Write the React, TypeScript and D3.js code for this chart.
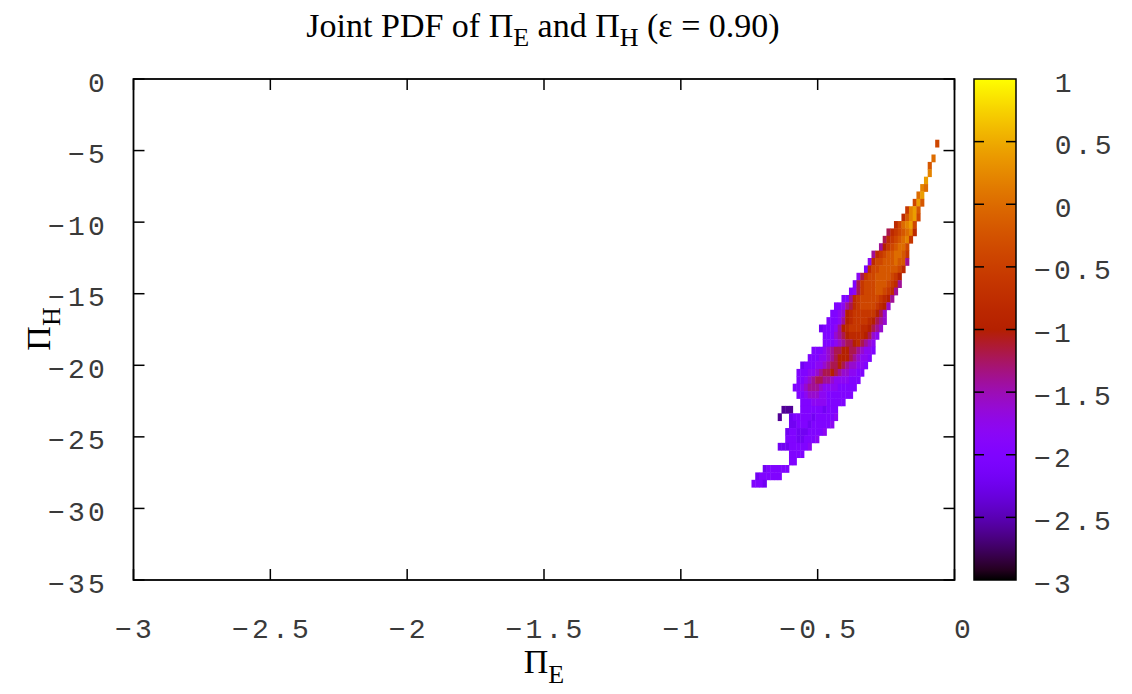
import React from 'react';
import * as d3 from 'd3';

// axis ticks
const xTicks = [-3, -2.5, -2, -1.5, -1, -0.5, 0];
const yTicks = [0, -5, -10, -15, -20, -25, -30, -35];
const cbTicks = [1, 0.5, 0, -0.5, -1, -1.5, -2, -2.5, -3];

// histogram grid (bin centres of column 0 / row 0 and bin sizes)
const COL0 = -0.735;
const DX = 0.0137;
const ROW0 = -4.5;
const DY = 0.5165;

// log10 pdf levels: '0' = -3 ... 'K' = 1, step 0.2 ; '.' = empty bin
const LEVELS = '0123456789ABCDEFGHIJK';

// [row, first column, levels]
const rows: [number, number, string][] = [
  [0, 49, 'D'],
  [2, 48, 'F'],
  [3, 47, 'E'],
  [4, 47, 'G'],
  [5, 46, 'H'],
  [6, 45, 'GF'],
  [7, 44, 'FH'],
  [8, 43, 'DHE'],
  [9, 41, 'CGHE'],
  [10, 40, 'BEGHD'],
  [11, 38, 'BDFGHD'],
  [12, 36, '9BCDEFGB'],
  [13, 35, '9BCDEFGC'],
  [14, 34, '8ACDEFFD'],
  [15, 32, '8BCDEEFFEC'],
  [16, 31, '6BDDEEEFEE8'],
  [17, 30, '5BDDEEEEEDB'],
  [18, 28, '69CDDEEEEDCA'],
  [19, 27, '59CDDDEEEDCB8'],
  [20, 26, '569CDDDEEDCB8'],
  [21, 24, '558BCDDDDDCBA8'],
  [22, 22, '55689BCDDDDCBA7'],
  [23, 21, '5567ABCCCCCCA97'],
  [24, 20, '55568ABCCCCBA987'],
  [25, 18, '455568ABCCCBBA987'],
  [26, 19, '555789ABBBBA976'],
  [27, 19, '55567899AB9876'],
  [28, 16, '55567899AA9987665'],
  [29, 15, '55566789AAA987665'],
  [30, 13, '4555667899A9877665'],
  [31, 12, '555667899A98776655'],
  [32, 12, '55678998876666555'],
  [33, 11, '55678887666655555'],
  [34, 12, '556777665555555'],
  [35, 13, '555666655555'],
  [36, 8, '222..5555554555'],
  [37, 7, '2..4555554555556'],
  [38, 10, '445554555556'],
  [39, 9, '45544455556'],
  [40, 9, '555445556'],
  [41, 7, '444555556'],
  [42, 10, '5555'],
  [43, 10, '55'],
  [44, 3, '4555555'],
  [45, 1, '4555555'],
  [46, 0, '5554'],
];

// gnuplot default palette (rgbformulae 7,5,15)
function pal(v: number) {
  const t = Math.max(0, Math.min(1, (v + 3) / 4));
  const r = Math.sqrt(t);
  const g = t * t * t;
  const b = Math.max(0, Math.sin(2 * Math.PI * t));
  return d3.rgb(r * 255, g * 255, b * 255).formatHex();
}

const fmt = (v: number) => (v < 0 ? '\u2212' + String(-v) : String(v));

export default function App() {
  const W = 1132, H = 694;
  const L = 133.5, R = 954.5, T = 79, B = 580;
  const cbL = 974, cbR = 1016;

  const x = d3.scaleLinear().domain([-3, 0]).range([L, R]);
  const y = d3.scaleLinear().domain([-35, 0]).range([B, T]);
  const cb = d3.scaleLinear().domain([-3, 1]).range([B, T]);

  const cells = rows.flatMap(([j, c0, s]) =>
    s.split('').map((ch, k) => {
      if (ch === '.') return null;
      return { x: COL0 + (c0 + k) * DX, y: ROW0 - j * DY, v: -3 + LEVELS.indexOf(ch) * 0.2 };
    })
  ).filter(Boolean) as { x: number; y: number; v: number }[];

  const stops = d3.range(0, 1.0001, 0.02);
  const tickFont = { fontFamily: 'Liberation Mono, monospace', fontSize: 28, letterSpacing: 3.2, fill: '#3a3a3a' };
  const tl = 11;

  return (
    <svg width={W} height={H} style={{ position: 'absolute', left: 0, top: 0, background: '#fff' }}>
      <defs>
        <linearGradient id="cbg" x1="0" y1="1" x2="0" y2="0">
          {stops.map(s => (
            <stop key={s} offset={s} stopColor={pal(-3 + 4 * s)} />
          ))}
        </linearGradient>
      </defs>

      {/* title */}
      <text x={543} y={37} textAnchor="middle" fontFamily="Liberation Serif, serif" fontSize={34} fill="#000">
        Joint PDF of Π<tspan dy={9} fontSize={26}>E</tspan>
        <tspan dy={-9}> and Π</tspan>
        <tspan dy={9} fontSize={26}>H</tspan>
        <tspan dy={-9}> (ε = 0.90)</tspan>
      </text>

      {/* heatmap */}
      <g>
        {cells.map((c, i) => {
          const x0 = x(c.x - DX / 2), x1 = x(c.x + DX / 2);
          const y0 = y(c.y + DY / 2), y1 = y(c.y - DY / 2);
          return (
            <rect key={i} x={x0} y={y0} width={x1 - x0 + 0.4} height={y1 - y0 + 0.4} fill={pal(c.v)} />
          );
        })}
      </g>

      {/* frame and ticks */}
      <rect x={L} y={T} width={R - L} height={B - T} fill="none" stroke="#000" strokeWidth={1.8} />
      {xTicks.map(t => (
        <g key={'x' + t}>
          <line x1={x(t)} x2={x(t)} y1={B} y2={B - tl} stroke="#000" strokeWidth={1.5} />
          <line x1={x(t)} x2={x(t)} y1={T} y2={T + tl} stroke="#000" strokeWidth={1.5} />
          <text x={x(t) + 1.6 + (t === 0 ? 8 : 0)} y={638} textAnchor="middle" {...tickFont}>{fmt(t)}</text>
        </g>
      ))}
      {yTicks.map(t => (
        <g key={'y' + t}>
          <line x1={L} x2={L + tl} y1={y(t)} y2={y(t)} stroke="#000" strokeWidth={1.5} />
          <line x1={R} x2={R - tl} y1={y(t)} y2={y(t)} stroke="#000" strokeWidth={1.5} />
          <text x={108} y={y(t) + 12.5} textAnchor="end" {...tickFont}>{fmt(t)}</text>
        </g>
      ))}

      {/* axis labels */}
      <text x={544} y={673} textAnchor="middle" fontFamily="Liberation Serif, serif" fontSize={34} fill="#000">
        Π<tspan dy={10} fontSize={26}>E</tspan>
      </text>
      <text transform="translate(50,329) rotate(-90)" textAnchor="middle" fontFamily="Liberation Serif, serif" fontSize={34} fill="#000">
        Π<tspan dy={10} fontSize={26}>H</tspan>
      </text>

      {/* colour box */}
      <rect x={cbL} y={T} width={cbR - cbL} height={B - T} fill="url(#cbg)" stroke="#000" strokeWidth={1.5} />
      {cbTicks.map(t => (
        <g key={'c' + t}>
          {t > -3 && t < 1 && (
            <>
              <line x1={cbL} x2={cbL + 10} y1={cb(t)} y2={cb(t)} stroke="#000" strokeWidth={1.5} />
              <line x1={cbR} x2={cbR - 10} y1={cb(t)} y2={cb(t)} stroke="#000" strokeWidth={1.5} />
            </>
          )}
          <text x={1034 + (t < 0 ? 0 : 20.8)} y={cb(t) + 12.5} textAnchor="start" {...tickFont}>{fmt(t)}</text>
        </g>
      ))}
    </svg>
  );
}
